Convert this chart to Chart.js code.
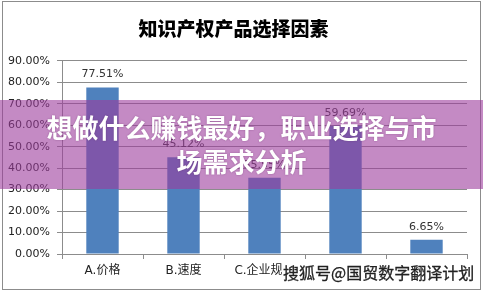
<!DOCTYPE html>
<html>
<head>
<meta charset="utf-8">
<script src="https://cdn.jsdelivr.net/npm/chart.js@4"></script>
<style>
    body { margin: 0; background: #fff; }
    #wrap { position: relative; width: 483px; height: 291px; overflow: hidden; }
    #frame { position: absolute; left: 2px; top: 1px; width: 477px; height: 287px; border: 1px solid #8c8c8c; }
    #banner {
        position: absolute; left: 0; top: 100px; width: 483px; height: 89px;
        background: rgba(156, 60, 157, 0.6);
    }
    #bannerText {
        position: absolute; left: 0; top: 110px; width: 483px; text-align: center;
        font-family: "Noto Sans CJK SC", sans-serif; font-weight: 700; font-size: 26px;
        line-height: 34px; color: #fff; text-shadow: 0 0 2px rgba(80, 20, 80, 0.4);
    }
    #mark {
        position: absolute; left: 283px; top: 261px; height: 22px; padding-right: 4px;
        background: #fff; font-family: "Noto Sans CJK SC", sans-serif; font-size: 16px;
        line-height: 22px; color: #222; -webkit-text-stroke: 0.3px #222;
    }
</style>
</head>
<body>
<div id="wrap">
    <canvas id="chart" width="483" height="291"></canvas>
    <div id="frame"></div>
    <div id="banner"></div>
    <div id="bannerText">想做什么赚钱最好，职业选择与市<br>场需求分析</div>
    <div id="mark">搜狐号@国贸数字翻译计划</div>
</div>
<script>
const categories = ['A.价格', 'B.速度', 'C.企业规模', 'D.质量', 'E.其他'];
const shares = [77.51, 45.12, 35.55, 59.69, 6.65];
const yTicks = [0, 10, 20, 30, 40, 50, 60, 70, 80, 90];

// value labels over each bar
const valueLabels = {
    id: 'valueLabels',
    afterDatasetsDraw(chart) {
        const ctx = chart.ctx;
        const meta = chart.getDatasetMeta(0);
        ctx.save();
        ctx.font = '11px "DejaVu Sans"';
        ctx.fillStyle = '#333';
        ctx.textAlign = 'center';
        ctx.textBaseline = 'middle';
        meta.data.forEach(function(bar, i) {
            ctx.fillText(shares[i].toFixed(2) + '%', bar.x, bar.y - 13);
        });
        ctx.restore();
    }
};

new Chart(document.getElementById('chart').getContext('2d'), {
    type: 'bar',
    data: {
        labels: categories,
        datasets: [{
            data: shares,
            backgroundColor: '#4f81bd',
            categoryPercentage: 1,
            barPercentage: 0.4
        }]
    },
    options: {
        responsive: false,
        animation: false,
        layout: {
            padding: { left: 0, right: 16, top: 0, bottom: 0 }
        },
        scales: {
            x: {
                afterFit: function(s) { s.height = 37; },
                grid: {
                    offset: true,
                    drawOnChartArea: false,
                    tickLength: 5,
                    color: '#8c8c8c'
                },
                border: { color: '#8c8c8c' },
                ticks: {
                    color: '#222',
                    padding: 5,
                    font: { size: 12, family: '"DejaVu Sans", "Noto Sans CJK SC"' }
                }
            },
            y: {
                min: 0,
                max: 90,
                afterFit: function(s) { s.width = 62; },
                afterBuildTicks: function(s) { s.ticks = yTicks.map(v => ({ value: v })); },
                grid: { color: '#8c8c8c', tickLength: 5 },
                border: { color: '#8c8c8c' },
                ticks: {
                    color: '#222',
                    padding: 7,
                    font: { size: 11, family: '"DejaVu Sans"' },
                    callback: v => v.toFixed(2) + '%'
                }
            }
        },
        plugins: {
            legend: { display: false },
            tooltip: { enabled: false },
            title: {
                display: true,
                text: '知识产权产品选择因素',
                color: '#000',
                padding: { top: 17, bottom: 21 },
                font: { size: 19, weight: '900', family: '"Noto Sans CJK SC"' }
            }
        }
    },
    plugins: [valueLabels]
});
</script>
</body>
</html>
